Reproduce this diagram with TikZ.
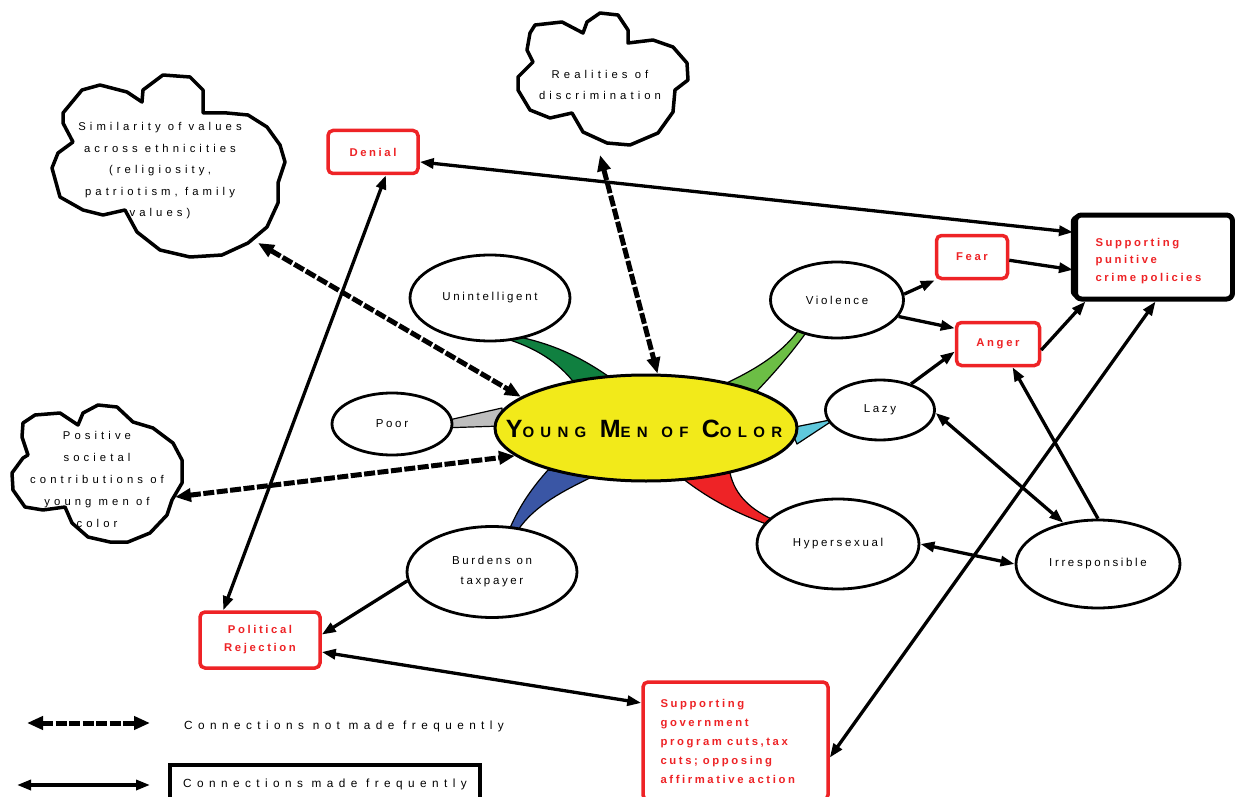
\documentclass[tikz,border=0pt]{standalone}
\usepackage{fontspec}
\setmainfont{Liberation Sans}
\newfontfamily\lsn[LetterSpace=23]{Liberation Sans}
\newfontfamily\lsc[LetterSpace=36]{Liberation Sans}
\newfontfamily\lsl[LetterSpace=46]{Liberation Sans}
\newfontfamily\lsy[LetterSpace=42]{Liberation Sans}
\usetikzlibrary{arrows.meta,shapes.geometric}
\definecolor{myred}{RGB}{238,35,38}
\definecolor{myyellow}{RGB}{242,234,26}
\definecolor{dgreen}{RGB}{16,128,64}
\definecolor{lgreen}{RGB}{108,190,69}
\definecolor{mygray}{RGB}{190,190,190}
\definecolor{mycyan}{RGB}{95,200,220}
\definecolor{myblue}{RGB}{58,86,165}
\newcommand\ymcBig{\fontsize{25}{25}\selectfont}
\newcommand\ymcSmall{\fontsize{15}{15}\selectfont}
\newcommand\wsp{\hspace{0.45em}}
\tikzset{
  ell/.style={ellipse, draw, line width=2.8pt, fill=white, inner sep=0pt, align=center,
    font=\lsn\fontsize{11.5}{20}\selectfont},
  rbox/.style={rectangle, draw=myred, line width=3.5pt, rounded corners=5pt, fill=white,
    text=myred, inner sep=0pt, align=center, font=\lsn\bfseries\fontsize{11.3}{18}\selectfont},
  cloudtxt/.style={align=center, font=\lsc\fontsize{11.3}{21.5}\selectfont},
  cloudline/.style={draw, line width=3.5pt, fill=white, line join=round},
  wedge/.style={draw, line width=1.2pt, line join=round},
  freq/.style={line width=3.3pt, {Triangle[length=14pt,width=10pt]}-{Triangle[length=14pt,width=10pt]}},
  freqone/.style={line width=3.3pt, -{Triangle[length=14pt,width=10pt]}},
  rare/.style={line width=5pt, dash pattern=on 11pt off 2.5pt,
    {Triangle[length=16pt,width=13pt]}-{Triangle[length=16pt,width=13pt]}},
  legtxt/.style={font=\lsl\fontsize{11.8}{12}\selectfont}
}
\begin{document}
\begin{tikzpicture}[x=1pt,y=-1pt]
\useasboundingbox (0,0) rectangle (1235,797);

% ---- clouds ----
\draw[cloudline] (63,113) -- (82,90) -- (100,85) -- (127,92) -- (142,102) -- (143,90) -- (163,75) -- (190,77) -- (203,90) -- (203,113) -- (227,113) -- (248,115) -- (267,127) -- (280,145) -- (285,162) -- (278,183) -- (278,203) -- (267,227) -- (248,243) -- (222,255) -- (190,257) -- (160,250) -- (137,232) -- (125,210) -- (103,215) -- (83,210) -- (60,197) -- (52,168) -- (58,153) -- (73,142) -- (63,123) -- cycle;
\node[cloudtxt] (sim) at (160,171) {Similarity of values\\across ethnicities\\(religiosity,\\patriotism, family\\values)};
\coordinate (simB) at (258,243);

\draw[cloudline] (535,25) -- (562,22) -- (583,33) -- (587,22) -- (600,13) -- (618,15) -- (628,30) -- (628,43) -- (653,40) -- (673,47) -- (687,63) -- (688,80) -- (675,90) -- (673,112) -- (658,133) -- (630,145) -- (607,143) -- (583,132) -- (572,113) -- (550,118) -- (530,110) -- (518,90) -- (518,77) -- (533,62) -- (527,50) -- (530,33) -- cycle;
\node[cloudtxt] (real) at (600,85) {Realities of\\discrimination};
\coordinate (realB) at (600,155);

\draw[cloudline] (23,423) -- (35,415) -- (60,413) -- (78,425) -- (83,413) -- (98,405) -- (117,407) -- (133,422) -- (153,428) -- (173,443) -- (182,460) -- (182,483) -- (172,500) -- (167,515) -- (150,533) -- (128,542) -- (110,542) -- (88,537) -- (72,523) -- (65,507) -- (43,510) -- (25,507) -- (13,490) -- (12,473) -- (23,458) -- (28,455) -- (22,437) -- cycle;
\node[cloudtxt, font=\lsc\fontsize{11.3}{22}\selectfont] (pos) at (97,479) {Positive\\societal\\contributions of\\young men of\\color};
\coordinate (posB) at (175,497);

% ---- wedges ----
\draw[wedge, fill=dgreen] (510,335) .. controls (545,342) and (575,352) .. (615,381) -- (578,388) .. controls (562,365) and (540,350) .. (510,340) -- cycle;
\draw[wedge, fill=lgreen] (800,328) -- (808,330) .. controls (790,355) and (775,372) .. (756,392) -- (720,386) .. controls (760,368) and (785,350) .. (800,328) -- cycle;
\draw[wedge, fill=mygray] (440,422) -- (502,408) -- (502,426) -- (440,428) -- cycle;
\draw[wedge, fill=mycyan] (790,428) -- (835,419) -- (797,444) -- cycle;
\draw[wedge, fill=myblue] (548,470) -- (592,477) .. controls (565,490) and (535,505) .. (518,530) -- (510,528) .. controls (520,505) and (532,488) .. (548,470) -- cycle;
\draw[wedge, fill=myred] (682,478) -- (730,473) .. controls (735,495) and (750,510) .. (778,522) -- (772,526) .. controls (740,515) and (710,500) .. (682,478) -- cycle;

% ---- ellipses ----
\node[ell, minimum width=160pt, minimum height=86pt] (uni) at (490,298) {Unintelligent};
\node[ell, minimum width=133pt, minimum height=76pt] (vio) at (837,300) {Violence};
\node[ell, minimum width=120pt, minimum height=62pt] (poor) at (392,424) {Poor};
\node[ell, minimum width=109pt, minimum height=60pt] (lazy) at (880,410) {Lazy};
\node[ell, minimum width=170pt, minimum height=91pt] (bur) at (492,572) {Burdens on\\taxpayer};
\node[ell, minimum width=162pt, minimum height=90pt] (hyp) at (838,544) {Hypersexual};
\node[ell, minimum width=164pt, minimum height=88pt] (irr) at (1098,564) {Irresponsible};
\node[ellipse, draw, line width=3pt, fill=myyellow, inner sep=0pt, minimum width=302pt, minimum height=106pt] (ymc) at (646,428) {};
\node[inner sep=0pt, font=\lsy\bfseries] (ymct) at (644,429)
  {\ymcBig Y\ymcSmall OUNG\hspace{3pt} \ymcBig M\ymcSmall EN\hspace{3pt} OF\hspace{3pt} \ymcBig C\ymcSmall OLOR};

% ---- boxes ----
\node[rbox, minimum width=90pt, minimum height=43pt] (den) at (373,152) {Denial};
\node[rbox, minimum width=71pt, minimum height=43pt] (fear) at (972,257) {Fear};
\node[rbox, minimum width=83pt, minimum height=43pt] (anger) at (998,344) {Anger};
\node[rbox, minimum width=120pt, minimum height=56pt] (pol) at (260,640) {Political\\Rejection};
\node[rbox, minimum width=185pt, minimum height=118pt, text width=150pt, align=left,
  font=\lsn\bfseries\fontsize{11.3}{19}\selectfont] (gov) at (735.5,741)
  {Supporting\\government\\program\wsp cuts,tax\\cuts;\wsp opposing\\affirmative\wsp action};
\draw[line width=2.5pt, rounded corners=6pt] (1072,216) rectangle (1228,297);
\node[rectangle, draw, line width=5pt, rounded corners=6pt, fill=white, inner sep=0pt,
  minimum width=157pt, minimum height=84pt] (pun) at (1154,257) {};
\node[text=myred, inner sep=0pt, text width=117pt, align=left,
  font=\lsn\bfseries\fontsize{11.3}{17.5}\selectfont] (puntxt) at (1154,261)
  {Supporting\\punitive\\crime\wsp policies};

% ---- frequent connectors ----
\draw[freq] (den.-12) -- (pun.163);
\draw[freq] (den.-61) -- (pol.141);
\draw[freqone] (fear.-5) -- (pun.189);
\draw[freqone] (vio.5) -- (fear.south west);
\draw[freqone] (vio.-15) -- (anger.160);
\draw[freqone] (lazy.40) -- (anger.190);
\draw[freqone] (anger.-8) -- (pun.213);
\draw[freq] (gov.-10) -- (pun.-88);
\draw[freqone] (irr.north) -- (anger.-58);
\draw[freq] (lazy.-3) -- (irr.130);
\draw[freq] (hyp.east) -- (irr.west);
\draw[freqone] (bur.186) -- (pol.5);
\draw[freq] (pol.-11) -- (gov.158);

% ---- rare connectors ----
\draw[rare] (simB) -- (ymc.166);
\draw[rare] (realB) -- (ymc.78);
\draw[rare] (posB) -- (ymc.192);

% ---- legend ----
\coordinate (lr1) at (27,723);
\coordinate (lr2) at (150,723);
\draw[rare] (lr1) -- (lr2);
\node[legtxt, anchor=west, inner sep=0pt] (legrare) at (184,726) {Connections not made frequently};
\coordinate (lf1) at (17,785);
\coordinate (lf2) at (150,785);
\draw[freq] (lf1) -- (lf2);
\node[legtxt, draw, line width=3.5pt, minimum width=310pt, minimum height=38pt, inner sep=0pt] (legfreq) at (325,784) {Connections made frequently};
\end{tikzpicture}
\end{document}
